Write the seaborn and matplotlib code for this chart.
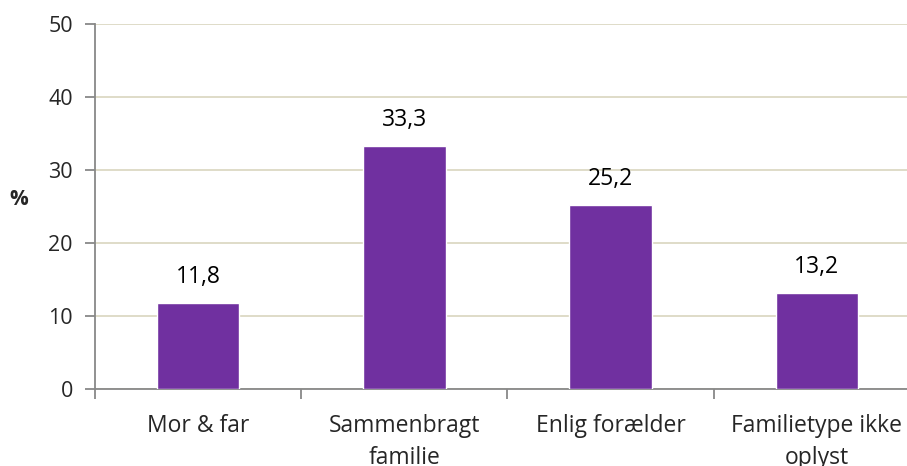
import matplotlib
matplotlib.use('Agg')
import matplotlib.pyplot as plt
import seaborn as sns
import pandas as pd

# data
categories = ['Mor & far', 'Sammenbragt\nfamilie', 'Enlig forælder', 'Familietype ikke\noplyst']
values = [11.8, 33.3, 25.2, 13.2]
value_labels = ['11,8', '33,3', '25,2', '13,2']
y_ticks = [0, 10, 20, 30, 40, 50]


def main():
    sns.set_style('white')
    plt.rcParams['font.family'] = ['Open Sans', 'DejaVu Sans']

    df = pd.DataFrame({'kategori': categories, 'pct': values})

    fig = plt.figure(figsize=(9.07, 4.66), dpi=100)
    ax = fig.add_axes([95 / 907, 1 - 389 / 466, 825 / 907, 365 / 466])

    sns.barplot(data=df, x='kategori', y='pct', color='#7030A0', saturation=1,
                width=0.4, ax=ax, zorder=3)

    for i, v in enumerate(values):
        ax.annotate(value_labels[i], (i, v), xytext=(0, 10), textcoords='offset points',
                    ha='center', va='bottom', fontsize=16.5, color='#000000')

    ax.set_ylim(0, 50)
    ax.set_xlim(-0.5, 3.5)
    ax.set_yticks(y_ticks)
    ax.yaxis.grid(True, color='#DCD9C4', linewidth=1.3, zorder=0)
    ax.set_axisbelow(True)

    for s in ['top', 'right']:
        ax.spines[s].set_visible(False)
    for s in ['left', 'bottom']:
        ax.spines[s].set_color('#888888')
        ax.spines[s].set_linewidth(1.3)

    ax.tick_params(axis='y', which='major', direction='out', length=7, width=1.3,
                   color='#888888', labelsize=15.5, pad=9, left=True)
    ax.tick_params(axis='x', which='major', length=0, labelsize=16.5, pad=18)
    ax.set_xticks([-0.5, 0.5, 1.5, 2.5, 3.5], minor=True)
    ax.tick_params(axis='x', which='minor', direction='out', length=7, width=1.3,
                   color='#888888', bottom=True)
    for lbl in ax.get_xticklabels():
        lbl.set_linespacing(1.45)
        lbl.set_va('top')

    ax.set_xlabel('')
    ax.set_ylabel('%', rotation=0, fontsize=15, fontweight='bold')
    ax.yaxis.set_label_coords(-0.092, 0.49)

    plt.savefig('out.png', dpi=100)


if __name__ == "__main__":
    main()
